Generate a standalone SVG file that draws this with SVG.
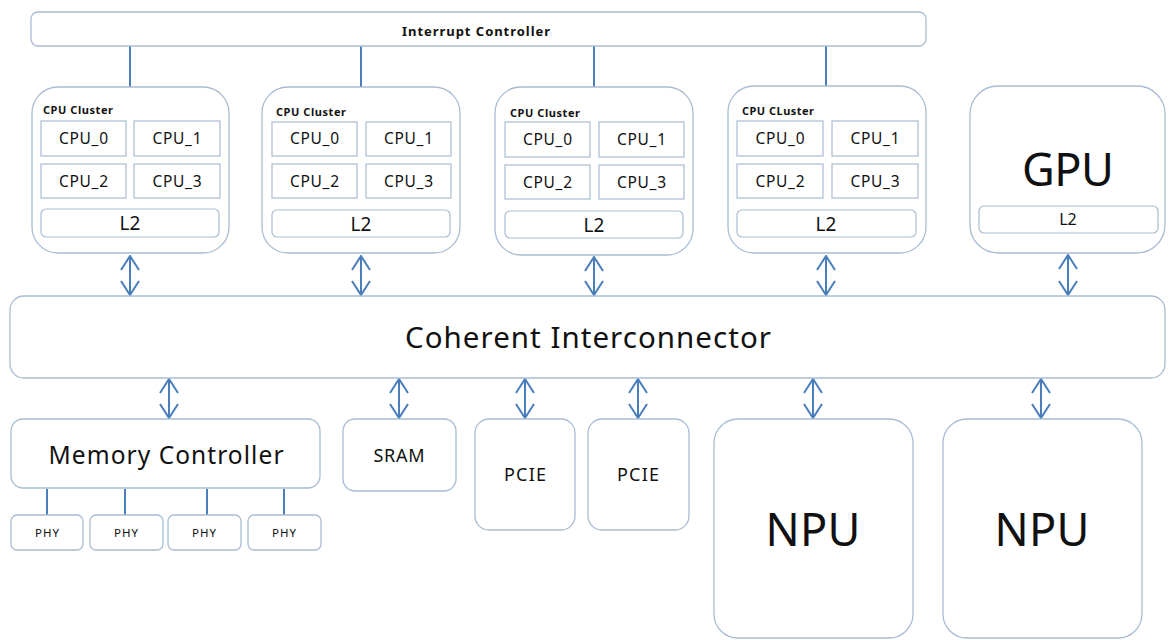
<svg xmlns="http://www.w3.org/2000/svg" width="1169" height="640" viewBox="0 0 1169 640">
<defs>
<marker id="chev" viewBox="0 0 16 20" refX="15" refY="10" markerWidth="16" markerHeight="20" markerUnits="userSpaceOnUse" orient="auto-start-reverse">
<path d="M1,1 L15,10 L1,19" fill="none" stroke="#4a7ebb" stroke-width="2"/>
</marker>
</defs>
<style>
.box{fill:#fff;stroke:#a9bdd3;stroke-width:1.3}
.cpu{fill:#fff;stroke:#a9bdd3;stroke-width:1.2}
.t{font-family:"Noto Sans","Open Sans",sans-serif;fill:#111;text-anchor:middle}
.c{font-size:15.5px}
.lbl{font-family:"Noto Sans","Open Sans",sans-serif;font-weight:bold;font-size:11px;fill:#111}
.ln{stroke:#4a7ebb;stroke-width:2;fill:none}
.arr{stroke:#4a7ebb;stroke-width:2;fill:none;marker-start:url(#chev);marker-end:url(#chev)}
</style>
<rect width="1169" height="640" fill="#fff"/>

<g id="connectors">
<line class="ln" x1="130" y1="46" x2="130" y2="87"/>
<line class="ln" x1="361" y1="46" x2="361" y2="87"/>
<line class="ln" x1="594" y1="46" x2="594" y2="87"/>
<line class="ln" x1="826" y1="46" x2="826" y2="87"/>
<line class="arr" x1="130" y1="256" x2="130" y2="295"/>
<line class="arr" x1="361" y1="256" x2="361" y2="295"/>
<line class="arr" x1="594" y1="257" x2="594" y2="295"/>
<line class="arr" x1="826" y1="256" x2="826" y2="295"/>
<line class="arr" x1="1068" y1="255" x2="1068" y2="295"/>
<line class="arr" x1="169" y1="379" x2="169" y2="418"/>
<line class="arr" x1="399" y1="379" x2="399" y2="418"/>
<line class="arr" x1="525" y1="379" x2="525" y2="418"/>
<line class="arr" x1="638" y1="379" x2="638" y2="418"/>
<line class="arr" x1="813" y1="379" x2="813" y2="418"/>
<line class="arr" x1="1041" y1="379" x2="1041" y2="418"/>
<line class="ln" x1="47" y1="489" x2="47" y2="515"/>
<line class="ln" x1="125" y1="489" x2="125" y2="515"/>
<line class="ln" x1="207" y1="489" x2="207" y2="515"/>
<line class="ln" x1="284" y1="489" x2="284" y2="515"/>
</g>

<g id="interrupt-controller">
<rect class="box" x="31" y="12" width="895" height="34" rx="7"/>
<text class="t" x="476" y="36" font-size="13" font-weight="bold" textLength="148" lengthAdjust="spacing">Interrupt Controller</text>
</g>

<g id="cpu-cluster-1">
<rect class="box" x="32" y="87" width="197" height="166" rx="26"/>
<text class="lbl" x="43" y="114" textLength="70" lengthAdjust="spacing">CPU Cluster</text>
<rect class="cpu" x="41" y="121" width="85" height="35"/>
<rect class="cpu" x="134" y="121" width="86" height="35"/>
<rect class="cpu" x="41" y="164" width="85" height="34"/>
<rect class="cpu" x="134" y="164" width="86" height="34"/>
<rect class="cpu" x="41" y="209" width="178" height="28" rx="5"/>
<text class="t c" x="83.5" y="144" textLength="49" lengthAdjust="spacing">CPU_0</text>
<text class="t c" x="177" y="144" textLength="49" lengthAdjust="spacing">CPU_1</text>
<text class="t c" x="83.5" y="187" textLength="49" lengthAdjust="spacing">CPU_2</text>
<text class="t c" x="177" y="187" textLength="49" lengthAdjust="spacing">CPU_3</text>
<text class="t" x="130" y="230" font-size="19">L2</text>
</g>

<g id="cpu-cluster-2">
<rect class="box" x="262" y="87" width="198" height="166" rx="26"/>
<text class="lbl" x="276" y="116" textLength="70" lengthAdjust="spacing">CPU Cluster</text>
<rect class="cpu" x="272" y="122" width="85" height="34"/>
<rect class="cpu" x="366" y="122" width="85" height="34"/>
<rect class="cpu" x="272" y="164" width="85" height="34"/>
<rect class="cpu" x="366" y="164" width="85" height="34"/>
<rect class="cpu" x="272" y="210" width="178" height="27" rx="5"/>
<text class="t c" x="314.5" y="144" textLength="49" lengthAdjust="spacing">CPU_0</text>
<text class="t c" x="408.5" y="144" textLength="49" lengthAdjust="spacing">CPU_1</text>
<text class="t c" x="314.5" y="187" textLength="49" lengthAdjust="spacing">CPU_2</text>
<text class="t c" x="408.5" y="187" textLength="49" lengthAdjust="spacing">CPU_3</text>
<text class="t" x="361" y="231" font-size="19">L2</text>
</g>

<g id="cpu-cluster-3">
<rect class="box" x="495" y="87" width="198" height="168" rx="26"/>
<text class="lbl" x="510" y="117" textLength="70" lengthAdjust="spacing">CPU Cluster</text>
<rect class="cpu" x="505" y="122" width="85" height="35"/>
<rect class="cpu" x="599" y="122" width="85" height="35"/>
<rect class="cpu" x="505" y="165" width="85" height="34"/>
<rect class="cpu" x="599" y="165" width="85" height="34"/>
<rect class="cpu" x="505" y="211" width="178" height="27" rx="5"/>
<text class="t c" x="547.5" y="145" textLength="49" lengthAdjust="spacing">CPU_0</text>
<text class="t c" x="641.5" y="145" textLength="49" lengthAdjust="spacing">CPU_1</text>
<text class="t c" x="547.5" y="188" textLength="49" lengthAdjust="spacing">CPU_2</text>
<text class="t c" x="641.5" y="188" textLength="49" lengthAdjust="spacing">CPU_3</text>
<text class="t" x="594" y="232" font-size="19">L2</text>
</g>

<g id="cpu-cluster-4">
<rect class="box" x="728" y="86" width="198" height="167" rx="26"/>
<text class="lbl" x="742" y="115" textLength="72" lengthAdjust="spacing">CPU CLuster</text>
<rect class="cpu" x="737" y="121" width="86" height="35"/>
<rect class="cpu" x="832" y="121" width="86" height="35"/>
<rect class="cpu" x="737" y="164" width="86" height="34"/>
<rect class="cpu" x="832" y="164" width="86" height="34"/>
<rect class="cpu" x="737" y="210" width="179" height="27" rx="5"/>
<text class="t c" x="780" y="144" textLength="49" lengthAdjust="spacing">CPU_0</text>
<text class="t c" x="875" y="144" textLength="49" lengthAdjust="spacing">CPU_1</text>
<text class="t c" x="780" y="187" textLength="49" lengthAdjust="spacing">CPU_2</text>
<text class="t c" x="875" y="187" textLength="49" lengthAdjust="spacing">CPU_3</text>
<text class="t" x="826" y="231" font-size="19">L2</text>
</g>

<g id="gpu">
<rect class="box" x="970" y="86" width="195" height="167" rx="28"/>
<text class="t" x="1068" y="186" font-size="45" textLength="92" lengthAdjust="spacing">GPU</text>
<rect class="cpu" x="979" y="206" width="179" height="27" rx="5"/>
<text class="t" x="1068" y="225" font-size="16">L2</text>
</g>

<g id="coherent-interconnector">
<rect class="box" x="10" y="296" width="1155" height="82" rx="14"/>
<text class="t" x="588" y="348" font-size="29.5" textLength="366" lengthAdjust="spacing">Coherent Interconnector</text>
</g>

<g id="memory-controller">
<rect class="box" x="11" y="419" width="309" height="69" rx="12"/>
<text class="t" x="166" y="464" font-size="24.5" textLength="235" lengthAdjust="spacing">Memory Controller</text>
</g>

<g id="phy-1"><rect class="box" x="11" y="515" width="72" height="35" rx="6"/><text class="t" x="47" y="537" font-size="11.5" textLength="24" lengthAdjust="spacing">PHY</text></g>
<g id="phy-2"><rect class="box" x="90" y="515" width="73" height="35" rx="6"/><text class="t" x="126" y="537" font-size="11.5" textLength="24" lengthAdjust="spacing">PHY</text></g>
<g id="phy-3"><rect class="box" x="168" y="515" width="73" height="35" rx="6"/><text class="t" x="204" y="537" font-size="11.5" textLength="24" lengthAdjust="spacing">PHY</text></g>
<g id="phy-4"><rect class="box" x="248" y="515" width="73" height="35" rx="6"/><text class="t" x="284" y="537" font-size="11.5" textLength="24" lengthAdjust="spacing">PHY</text></g>

<g id="sram">
<rect class="box" x="343" y="419" width="113" height="72" rx="12"/>
<text class="t" x="399" y="462" font-size="18" textLength="51" lengthAdjust="spacing">SRAM</text>
</g>

<g id="pcie-1">
<rect class="box" x="475" y="419" width="100" height="111" rx="14"/>
<text class="t" x="525" y="481" font-size="18" textLength="42" lengthAdjust="spacing">PCIE</text>
</g>

<g id="pcie-2">
<rect class="box" x="588" y="419" width="101" height="111" rx="14"/>
<text class="t" x="638" y="481" font-size="18" textLength="42" lengthAdjust="spacing">PCIE</text>
</g>

<g id="npu-1">
<rect class="box" x="714" y="419" width="199" height="219" rx="24"/>
<text class="t" x="813" y="546" font-size="45" textLength="95" lengthAdjust="spacing">NPU</text>
</g>

<g id="npu-2">
<rect class="box" x="943" y="419" width="199" height="219" rx="24"/>
<text class="t" x="1042" y="546" font-size="45" textLength="95" lengthAdjust="spacing">NPU</text>
</g>
</svg>
